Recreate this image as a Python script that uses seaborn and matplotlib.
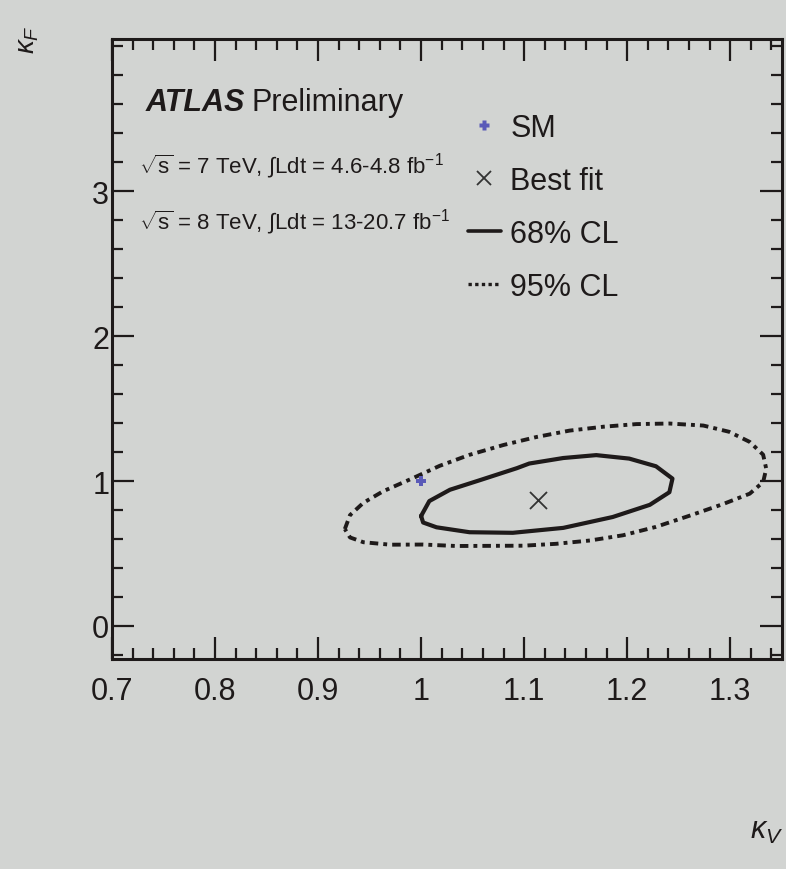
import matplotlib
matplotlib.use("Agg")
import matplotlib.pyplot as plt
from matplotlib.ticker import MultipleLocator, FixedLocator, FixedFormatter
from matplotlib.lines import Line2D
import pandas as pd
import seaborn as sns

# 95% CL contour in the (kappa_V, kappa_F) plane
cl95_kv = [0.926, 0.931, 0.944, 0.963, 0.992, 1.018, 1.047, 1.080, 1.112, 1.144,
           1.177, 1.209, 1.241, 1.274, 1.299, 1.319, 1.332, 1.335, 1.332, 1.319,
           1.293, 1.261, 1.228, 1.196, 1.164, 1.131, 1.099, 1.067, 1.034, 1.002,
           0.970, 0.944, 0.931]
cl95_kf = [0.669, 0.765, 0.850, 0.929, 1.020, 1.105, 1.181, 1.249, 1.304, 1.348,
           1.375, 1.393, 1.397, 1.383, 1.340, 1.270, 1.182, 1.085, 0.993, 0.913,
           0.841, 0.762, 0.684, 0.626, 0.590, 0.567, 0.554, 0.553, 0.552, 0.562,
           0.561, 0.578, 0.611]

# 68% CL contour
cl68_kv = [1.000, 1.008, 1.028, 1.057, 1.093, 1.105, 1.138, 1.170, 1.202, 1.228,
           1.244, 1.241, 1.222, 1.186, 1.138, 1.089, 1.047, 1.015, 1.002]
cl68_kf = [0.759, 0.862, 0.940, 1.006, 1.089, 1.121, 1.159, 1.179, 1.155, 1.102,
           1.017, 0.923, 0.836, 0.752, 0.677, 0.643, 0.647, 0.681, 0.714]

best_fit_kv, best_fit_kf = [1.113], [0.870]
sm_kv, sm_kf = [1.0], [1.0]

x_ticks = [0.7, 0.8, 0.9, 1.0, 1.1, 1.2, 1.3]
x_tick_labels = ["0.7", "0.8", "0.9", "1", "1.1", "1.2", "1.3"]
y_ticks = [0, 1, 2, 3]
y_tick_labels = ["0", "1", "2", "3"]

sns.set_theme(style="ticks")
plt.rcParams["font.family"] = ["Liberation Sans", "DejaVu Sans"]
plt.rcParams["mathtext.fontset"] = "custom"
plt.rcParams["mathtext.rm"] = "Liberation Sans"
plt.rcParams["mathtext.it"] = "Liberation Sans:italic"
plt.rcParams["mathtext.bf"] = "Liberation Sans:bold"

bg = "#d2d4d2"
ink = "#1e1a1a"
fig = plt.figure(figsize=(7.86, 8.70), dpi=100, facecolor=bg)
ax = fig.add_axes([0.1425, 0.241, 0.852, 0.713], facecolor=bg)


def closed(xs, ys):
    return pd.DataFrame({"kv": list(xs) + [xs[0]], "kf": list(ys) + [ys[0]]})


d95 = closed(cl95_kv, cl95_kf)
d68 = closed(cl68_kv, cl68_kf)
sns.lineplot(data=d95, x="kv", y="kf", sort=False, estimator=None, ax=ax,
             color=ink, lw=2.8, linestyle=(0, (2.2, 1.3, 1.0, 1.3)))
sns.lineplot(data=d68, x="kv", y="kf", sort=False, estimator=None, ax=ax,
             color=ink, lw=3.0)
sns.scatterplot(x=best_fit_kv, y=best_fit_kf, marker="x", s=150, color="#333333",
                linewidth=1.3, ax=ax, zorder=5)
sns.scatterplot(x=sm_kv, y=sm_kf, marker="P", s=55, color="#5a5ab8",
                edgecolor="none", ax=ax, zorder=5)

ax.set_xlim(0.7, 1.35)
ax.set_ylim(-0.23, 4.05)
ax.xaxis.set_major_locator(FixedLocator(x_ticks))
ax.xaxis.set_major_formatter(FixedFormatter(x_tick_labels))
ax.xaxis.set_minor_locator(MultipleLocator(0.02))
ax.yaxis.set_major_locator(FixedLocator(y_ticks))
ax.yaxis.set_major_formatter(FixedFormatter(y_tick_labels))
ax.yaxis.set_minor_locator(MultipleLocator(0.2))
ax.tick_params(which="both", direction="in", top=True, right=True,
               color=ink, width=1.6, labelcolor=ink)
ax.tick_params(which="major", length=16, labelsize=22)
ax.tick_params(which="minor", length=8)
ax.tick_params(axis="x", pad=12)
ax.tick_params(axis="y", pad=2)
for sp in ax.spines.values():
    sp.set_color(ink)
    sp.set_linewidth(2.2)
ax.set_xlabel("")
ax.set_ylabel("")

# axis titles
fig.text(0.035, 0.955, r"$\kappa_F$", rotation=90, fontsize=20, color=ink,
         ha="center", va="center")
fig.text(0.975, 0.045, r"$\kappa_V$", fontsize=22, color=ink,
         ha="center", va="center")

# ATLAS label and data sets
atlas = ax.text(0.05, 0.885, "ATLAS", transform=ax.transAxes, fontsize=22,
                fontweight="bold", fontstyle="italic", color=ink, va="baseline")
ax.annotate("Preliminary", xy=(1, 0), xycoords=atlas, xytext=(5, 0),
            textcoords="offset points", fontsize=22, color=ink,
            ha="left", va="bottom")
ax.text(0.04, 0.785,
        r"$\sqrt{\mathrm{s}}$ = 7 TeV, $\int$Ldt = 4.6-4.8 fb$^{\mathrm{-1}}$",
        transform=ax.transAxes, fontsize=16, color=ink, va="baseline")
ax.text(0.04, 0.695,
        r"$\sqrt{\mathrm{s}}$ = 8 TeV, $\int$Ldt = 13-20.7 fb$^{\mathrm{-1}}$",
        transform=ax.transAxes, fontsize=16, color=ink, va="baseline")

handles = [
    Line2D([], [], marker="P", color="#5a5ab8", ls="none", markersize=7,
           markeredgecolor="none"),
    Line2D([], [], marker="x", color="#333333", ls="none", markersize=10,
           markeredgewidth=1.3),
    Line2D([], [], color=ink, lw=2.6),
    Line2D([], [], color=ink, lw=2.4, ls=(0, (1.0, 1.0))),
]
labels = ["SM", "Best fit", "68% CL", "95% CL"]
ax.legend(handles, labels, loc="upper left", bbox_to_anchor=(0.49, 0.925),
          frameon=False, fontsize=22, handlelength=1.1, handletextpad=0.3,
          labelspacing=0.75, labelcolor=ink)

fig.savefig("out.png", dpi=100, facecolor=bg)
